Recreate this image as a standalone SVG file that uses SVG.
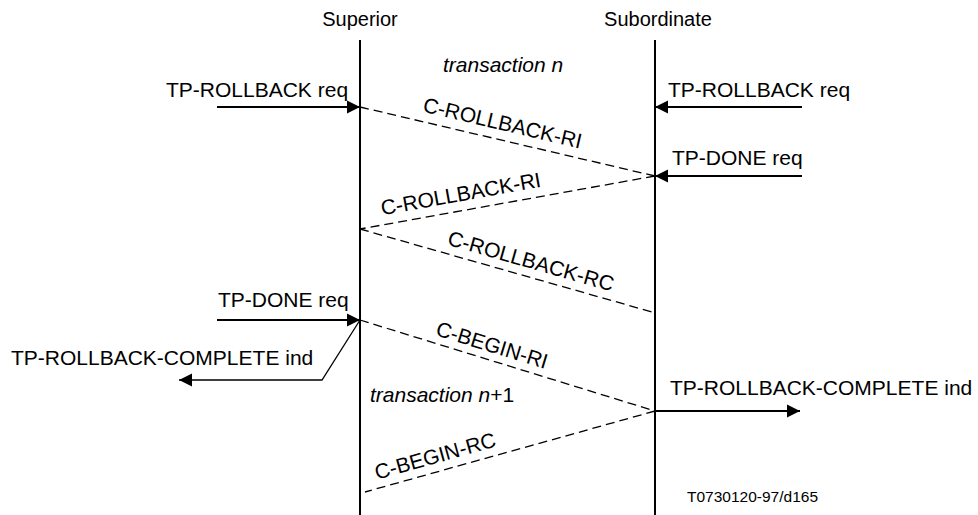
<svg xmlns="http://www.w3.org/2000/svg" width="978" height="515" viewBox="0 0 978 515">
<style>
text{font-family:"Liberation Sans",Arial,sans-serif;fill:#000}
.hdr{font-size:20px;text-anchor:middle}
.lbl{font-size:21px}
.it{font-size:21px;font-style:italic}
.msg{font-size:21px;text-anchor:middle}
.life{stroke:#000;stroke-width:2;fill:none}
.sol{stroke:#000;stroke-width:2;fill:none}
.thin{stroke:#000;stroke-width:1.3;fill:none}
.dash{stroke:#000;stroke-width:1.3;fill:none;stroke-dasharray:9 5}
.ref{font-size:15.5px}
</style>
<defs>
<marker id="ah" markerUnits="userSpaceOnUse" markerWidth="14" markerHeight="14" viewBox="0 0 14 14" refX="13" refY="7" orient="auto">
<path d="M0,0.5 L13,7 L0,13.5 Z" fill="#000"/>
</marker>
</defs>
<g id="superior">
<text class="hdr" x="360" y="26">Superior</text>
<line class="life" x1="360" y1="40" x2="360" y2="515"/>
</g>
<g id="subordinate">
<text class="hdr" x="658" y="26">Subordinate</text>
<line class="life" x1="655" y1="40" x2="655" y2="515"/>
</g>
<g id="labels">
<text class="it" x="443" y="72">transaction <tspan>n</tspan></text>
<text class="it" x="370" y="402">transaction n<tspan font-style="normal">+1</tspan></text>
<text class="lbl" x="166" y="97">TP-ROLLBACK req</text>
<text class="lbl" x="668" y="97">TP-ROLLBACK req</text>
<text class="lbl" x="672" y="165">TP-DONE req</text>
<text class="lbl" x="218" y="307">TP-DONE req</text>
<text class="lbl" x="11" y="365">TP-ROLLBACK-COMPLETE ind</text>
<text class="lbl" x="670" y="395">TP-ROLLBACK-COMPLETE ind</text>
<text class="ref" x="687" y="502">T0730120-97/d165</text>
</g>
<g id="connectors">
<line class="sol" x1="217" y1="107" x2="360" y2="107" marker-end="url(#ah)"/>
<line class="sol" x1="802" y1="107" x2="655" y2="107" marker-end="url(#ah)"/>
<line class="sol" x1="802" y1="176" x2="655" y2="176" marker-end="url(#ah)"/>
<line class="sol" x1="217" y1="320" x2="360" y2="320" marker-end="url(#ah)"/>
<polyline class="thin" points="360,320 322,380 179,380" marker-end="url(#ah)"/>
<line class="sol" x1="655" y1="411" x2="800" y2="411" marker-end="url(#ah)"/>
<line class="dash" x1="360" y1="107" x2="655" y2="176"/>
<line class="dash" x1="655" y1="176" x2="360" y2="229"/>
<line class="dash" x1="360" y1="229" x2="652" y2="312"/>
<line class="dash" x1="360" y1="320" x2="655" y2="411"/>
<line class="dash" x1="655" y1="411" x2="365" y2="492"/>
<text class="msg" transform="translate(501,130) rotate(13.2)">C-ROLLBACK-RI</text>
<text class="msg" transform="translate(462,201) rotate(-10.2)">C-ROLLBACK-RI</text>
<text class="msg" transform="translate(529,268) rotate(15.9)">C-ROLLBACK-RC</text>
<text class="msg" transform="translate(490,352) rotate(17.1)">C-BEGIN-RI</text>
<text class="msg" transform="translate(437,463) rotate(-15.6)">C-BEGIN-RC</text>
</g>
</svg>
